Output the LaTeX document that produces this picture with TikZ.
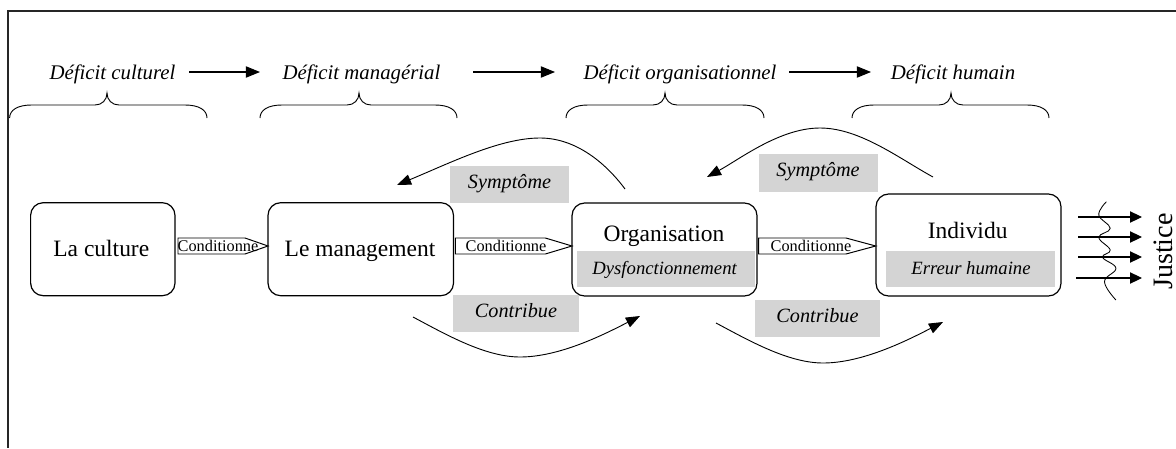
\documentclass[tikz,border=0pt]{standalone}
\usepackage{fontspec}
\setmainfont{Liberation Serif}
\usetikzlibrary{arrows.meta}
\newdimen\pxu \pxu=0.025cm
\newcommand\szBox{\fontsize{16.7pt}{20pt}\selectfont}
\newcommand\szHead{\fontsize{14.8pt}{18pt}\selectfont}
\newcommand\szLab{\fontsize{14.4pt}{17pt}\selectfont}
\newcommand\szBand{\fontsize{13.3pt}{16pt}\selectfont}
\newcommand\szCond{\fontsize{11.6pt}{14pt}\selectfont}
\newcommand\szJust{\fontsize{20pt}{24pt}\selectfont}
\definecolor{bandgray}{RGB}{212,212,212}
\begin{document}
\begin{tikzpicture}[x=0.025cm,y=-0.025cm,
  frameline/.style={line width=1.05pt, black!85},
  box/.style={draw, rounded corners=9pt, line width=0.85pt, inner sep=0},
  boxtxt/.style={font=\szBox, anchor=base, inner sep=0},
  band/.style={fill=bandgray, inner sep=0},
  bandtxt/.style={font=\szBand\itshape, anchor=base, inner sep=0},
  lab/.style={fill=bandgray, inner sep=0, font=\szLab\itshape, text height=0.66em, text depth=0.12em},
  head/.style={font=\szHead\itshape, anchor=base, inner sep=0},
  condshape/.style={draw, line width=0.7pt, fill=white},
  condtxt/.style={font=\szCond, anchor=base, inner sep=0},
  arr/.style={-{Triangle[length=10pt,width=7.5pt]}, line width=0.65pt},
  harr/.style={-{Triangle[length=10pt,width=8pt]}, line width=0.75pt},
  jarr/.style={-{Triangle[length=8.5pt,width=8pt]}, line width=0.75pt},
  bracepath/.style={line width=0.65pt},
  wavy/.style={line width=0.6pt}
]
\useasboundingbox (0,0) rectangle (1176,448);
% frame
\draw[frameline] (1176,11) -- (8,11) -- (8,448);

% headings
\node[head] (h1) at (112.5,79) {Déficit culturel};
\node[head] (h2) at (361.5,79) {Déficit managérial};
\node[head] (h3) at (680,79) {Déficit organisationnel};
\node[head] (h4) at (953,79) {Déficit humain};
\coordinate (a1s) at (189,72); \coordinate (a1e) at (260,72);
\coordinate (a2s) at (473,72); \coordinate (a2e) at (555,72);
\coordinate (a3s) at (789,72); \coordinate (a3e) at (871,72);
\draw[harr] (a1s) -- (a1e);
\draw[harr] (a2s) -- (a2e);
\draw[harr] (a3s) -- (a3e);

% braces
\foreach \l/\t/\r in {9.6/107/207, 260/359/457, 566/665/764, 852/951/1049}{
  \draw[bracepath] (\l,118) .. controls (\l,110) and (\l+8,105) .. (\l+22,105)
    -- (\t-12,105) .. controls (\t-5,105) and (\t,100) .. (\t,93)
    .. controls (\t,100) and (\t+5,105) .. (\t+12,105)
    -- (\r-22,105) .. controls (\r-8,105) and (\r,110) .. (\r,118);
}

% gray bands
\node[band, minimum width=178\pxu, minimum height=36\pxu] (orgband) at (666,269) {};
\node[band, minimum width=169\pxu, minimum height=36\pxu] (indband) at (970.5,269) {};

% boxes
\node[box, minimum width=144.4\pxu, minimum height=93\pxu] (culture) at (102.8,249.2) {};
\node[box, minimum width=185.5\pxu, minimum height=93\pxu] (management) at (360.75,249.2) {};
\node[box, minimum width=185\pxu, minimum height=93\pxu] (organisation) at (664.5,249.5) {};
\node[box, minimum width=185\pxu, minimum height=102\pxu] (individu) at (968.5,245) {};

\node[boxtxt] (tculture) at (101.3,256.5) {La culture};
\node[boxtxt] (tmanagement) at (360,256.5) {Le management};
\node[boxtxt] (torganisation) at (664,241.5) {Organisation};
\node[boxtxt] (tindividu) at (967.7,238.3) {Individu};
\node[bandtxt] (tdysf) at (664.6,274) {Dysfonctionnement};
\node[bandtxt] (terreur) at (971,274) {Erreur humaine};

% conditionne block arrows
\draw[condshape] (178,238) -- (245,238) -- (268,246) -- (245,254) -- (178,254) -- cycle;
\draw[condshape] (455.4,238) -- (545.3,238) -- (572,246) -- (545.3,254) -- (455.4,254) -- cycle;
\draw[condshape] (758.6,238) -- (846,238) -- (875.7,246) -- (846,254) -- (758.6,254) -- cycle;
\node[condtxt] (c1) at (218,251.5) {Conditionne};
\node[condtxt] (c2) at (506,251.5) {Conditionne};
\node[condtxt] (c3) at (811,251.5) {Conditionne};

% labels
\node[lab, minimum width=119\pxu, minimum height=37\pxu] (sym1) at (509.5,184.5) {Symptôme};
\node[lab, minimum width=119\pxu, minimum height=38\pxu] (sym2) at (818,173) {Symptôme};
\node[lab, minimum width=126\pxu, minimum height=37\pxu] (con1) at (516,313.5) {Contribue};
\node[lab, minimum width=125\pxu, minimum height=37\pxu] (con2) at (817.5,318.5) {Contribue};

% curved arrows
\coordinate (s1a) at (625,189); \coordinate (s1m) at (540,138); \coordinate (s1b) at (397,185);
\draw[arr] (s1a) .. controls (605,162) and (575,138) .. (s1m) .. controls (500,138) and (450,163) .. (s1b);
\coordinate (s2a) at (933,177); \coordinate (s2m) at (820,128); \coordinate (s2b) at (707,177);
\draw[arr] (s2a) .. controls (900,159) and (860,128) .. (s2m) .. controls (780,128) and (740,159) .. (s2b);
\coordinate (k1a) at (413,317); \coordinate (k1m) at (520,357); \coordinate (k1b) at (640,316);
\draw[arr] (k1a) .. controls (445,334) and (485,357) .. (k1m) .. controls (560,357) and (605,334) .. (k1b);
\coordinate (k2a) at (716,323); \coordinate (k2m) at (823,363); \coordinate (k2b) at (943,322);
\draw[arr] (k2a) .. controls (748,340) and (788,363) .. (k2m) .. controls (863,363) and (908,340) .. (k2b);

% justice
\foreach \i/\y/\xs in {1/217/1078, 2/237/1078, 3/257/1078, 4/278/1076}{
  \coordinate (j\i s) at (\xs,\y);
  \coordinate (j\i e) at (1142,\y);
  \draw[jarr] (j\i s) -- (j\i e);
}
\draw[wavy] plot[smooth, tension=0.7] coordinates {(1106.4,201.7) (1098.8,215) (1110.2,228.3) (1098.8,237.3) (1110.2,250) (1102.6,257.3) (1115.9,268.3) (1104.5,281.7) (1115.9,300)};
\node[rotate=90, anchor=base, font=\szJust, inner sep=0] (justice) at (1172,251.5) {Justice};
\end{tikzpicture}
\end{document}
